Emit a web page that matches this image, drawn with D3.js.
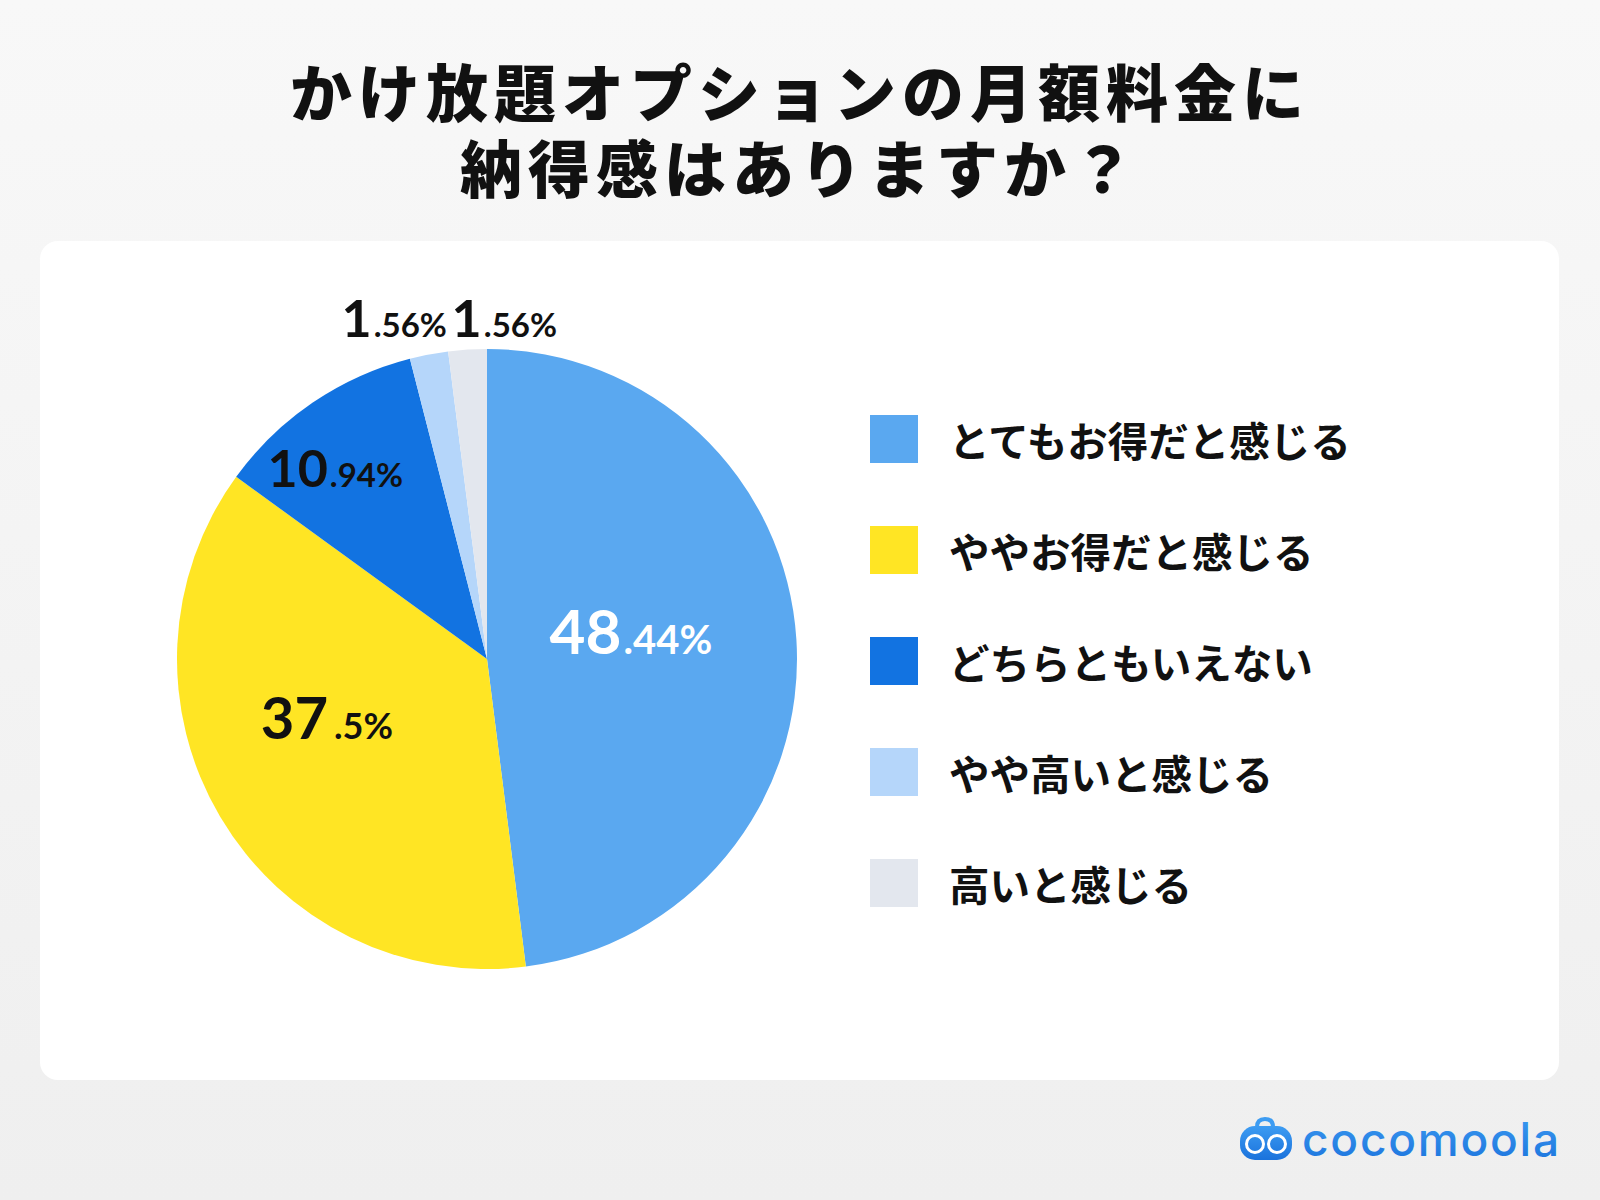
<!DOCTYPE html>
<html>
<head>
<meta charset="utf-8">
<script src="https://cdn.jsdelivr.net/npm/d3@7"></script>
<style>
  html, body { margin: 0; padding: 0; }
  body { width: 1600px; height: 1200px; overflow: hidden; }
</style>
</head>
<body>
<div id="chart"></div>
<script>
// data
var title = ["かけ放題オプションの月額料金に", "納得感はありますか？"];
var categories = ["とてもお得だと感じる", "ややお得だと感じる", "どちらともいえない", "やや高いと感じる", "高いと感じる"];
var values = [48.44, 37.5, 10.94, 1.56, 1.56];      // printed labels
var drawnShares = [48, 37, 11, 2, 2];               // slice sizes as drawn in the picture
var colors = ["#5aa8f0", "#ffe524", "#1273e1", "#b5d6fa", "#e3e7ee"];

// label placement (radius factor of pie radius, x nudge, baseline nudge)
var labelRadius = [0.465, 0.60, 0.71, 1.115, 1.115];
var labelDx = [0, 0, -28, -28, 39];
var labelDy = [4, -15, 10, 18, 23];
var labelBig = [62, 58, 52, 52, 52];
var labelSmall = [40, 36, 33, 33, 33];
var labelColor = ["#ffffff", "#111111", "#111111", "#111111", "#111111"];

var W = 1600, H = 1200;
var svg = d3.select("#chart").append("svg")
            .attr("width", W)
            .attr("height", H);

var defs = svg.append("defs");
var bg = defs.append("linearGradient").attr("id", "bg")
             .attr("x1", 0).attr("y1", 0).attr("x2", 0).attr("y2", 1);
bg.append("stop").attr("offset", "0%").attr("stop-color", "#f8f8f8");
bg.append("stop").attr("offset", "100%").attr("stop-color", "#efefef");

var logoGrad = defs.append("linearGradient").attr("id", "logoGrad")
             .attr("x1", 0).attr("y1", 0).attr("x2", 0).attr("y2", 1);
logoGrad.append("stop").attr("offset", "0%").attr("stop-color", "#3d9cf2");
logoGrad.append("stop").attr("offset", "100%").attr("stop-color", "#1a72dc");

svg.append("rect").attr("width", W).attr("height", H).attr("fill", "url(#bg)");

// title
svg.append("g").selectAll("text")
   .data(title)
   .enter()
   .append("text")
   .attr("x", 800)
   .attr("y", function(d, i){ return 90 + i * 76; })
   .attr("text-anchor", "middle")
   .attr("dominant-baseline", "central")
   .attr("font-family", "'Noto Sans CJK JP', sans-serif")
   .attr("font-weight", 900)
   .attr("font-size", 62)
   .attr("letter-spacing", 6)
   .attr("fill", "#111")
   .text(function(d){ return d; });

// white card
svg.append("rect")
   .attr("x", 40).attr("y", 241)
   .attr("width", 1519).attr("height", 839)
   .attr("rx", 18)
   .attr("fill", "#ffffff");

// pie
var cx = 487, cy = 659, R = 310;
var pie = d3.pie().sort(null).value(function(d){ return d.share; });
var arcs = pie(drawnShares.map(function(s, i){ return {share: s, value: values[i]}; }));
var arc = d3.arc().innerRadius(0).outerRadius(R);

var g = svg.append("g").attr("transform", "translate(" + cx + "," + cy + ")");
g.selectAll("path")
 .data(arcs)
 .enter()
 .append("path")
 .attr("d", arc)
 .attr("fill", function(d, i){ return colors[i]; });

// labels
var labels = g.selectAll("text.lbl")
  .data(arcs)
  .enter()
  .append("text")
  .attr("class", "lbl")
  .attr("text-anchor", "middle")
  .attr("font-family", "Lato, 'Noto Sans', sans-serif")
  .attr("font-weight", 700)
  .attr("fill", function(d, i){ return labelColor[i]; })
  .attr("transform", function(d, i){
    var r = R * labelRadius[i];
    var c = d3.arc().innerRadius(r).outerRadius(r).centroid(d);
    return "translate(" + (c[0] + labelDx[i]) + "," + (c[1] + labelDy[i]) + ")";
  });

labels.append("tspan")
  .attr("font-size", function(d, i){ return labelBig[i]; })
  .text(function(d){ return String(d.data.value).split(".")[0]; });
labels.append("tspan")
  .attr("font-size", function(d, i){ return labelSmall[i]; })
  .attr("dx", function(d, i){ return i === 1 ? 6 : 2; })
  .text(function(d){ return "." + String(d.data.value).split(".")[1] + "%"; });

// legend
var legend = svg.append("g").selectAll("g")
  .data(categories)
  .enter()
  .append("g")
  .attr("transform", function(d, i){ return "translate(870," + (439 + i * 111) + ")"; });

legend.append("rect")
  .attr("x", 0).attr("y", -24)
  .attr("width", 48).attr("height", 48)
  .attr("fill", function(d, i){ return colors[i]; });

legend.append("text")
  .attr("x", 79)
  .attr("y", 0)
  .attr("dominant-baseline", "central")
  .attr("font-family", "'Noto Sans CJK JP', sans-serif")
  .attr("font-weight", 700)
  .attr("font-size", 40.5)
  .attr("fill", "#111")
  .text(function(d){ return d; });

// logo
var logo = svg.append("g").attr("transform", "translate(1240,1120)");
logo.append("path")
  .attr("d", "M17,7 Q17,-1 25,-1 Q33,-1 33,7")
  .attr("fill", "none")
  .attr("stroke", "#3d9cf2")
  .attr("stroke-width", 4)
  .attr("stroke-linecap", "round");
logo.append("rect")
  .attr("x", 0).attr("y", 6)
  .attr("width", 52).attr("height", 34)
  .attr("rx", 15)
  .attr("fill", "url(#logoGrad)");
[15, 37].forEach(function(ex){
  logo.append("circle")
    .attr("cx", ex).attr("cy", 24).attr("r", 8.5)
    .attr("fill", "none")
    .attr("stroke", "#ffffff")
    .attr("stroke-width", 3);
});
svg.append("text")
  .attr("x", 1302)
  .attr("y", 1156)
  .attr("font-family", "Inter, Lato, sans-serif")
  .attr("font-weight", 500)
  .attr("font-size", 46)
  .attr("textLength", 257)
  .attr("lengthAdjust", "spacing")
  .attr("fill", "url(#logoGrad)")
  .text("cocomoola");
</script>
</body>
</html>
